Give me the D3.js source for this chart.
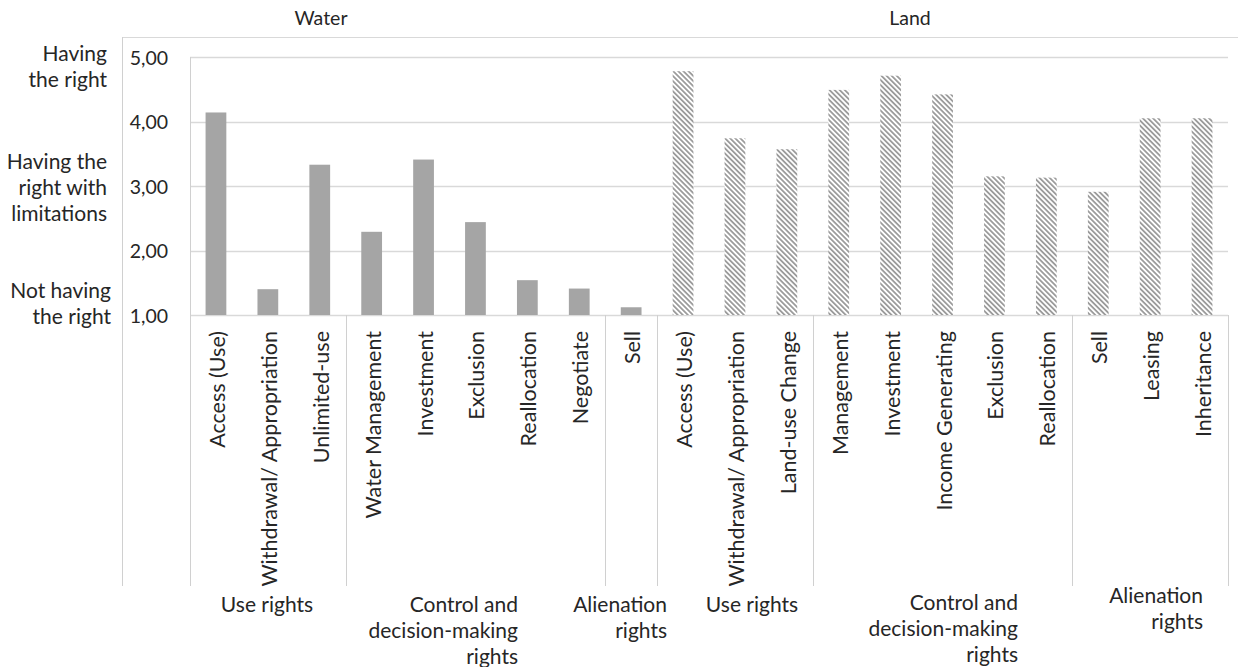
<!DOCTYPE html>
<html>
<head>
<meta charset="utf-8">
<script src="https://cdn.jsdelivr.net/npm/d3@7"></script>
<style>
  html, body { margin: 0; padding: 0; background: #fff; }
  svg text { font-family: Lato, "Noto Sans", sans-serif; fill: #262626; }
</style>
</head>
<body>
<svg id="chart" width="1239" height="667"></svg>
<script>
// ---------- data ----------
const waterCategories = ["Access (Use)", "Withdrawal/ Appropriation", "Unlimited-use", "Water Management", "Investment", "Exclusion", "Reallocation", "Negotiate", "Sell"];
const waterValues = [4.14, 1.40, 3.33, 2.29, 3.41, 2.44, 1.54, 1.41, 1.12];
const landCategories = ["Access (Use)", "Withdrawal/ Appropriation", "Land-use Change", "Management", "Investment", "Income Generating", "Exclusion", "Reallocation", "Sell", "Leasing", "Inheritance"];
const landValues = [4.78, 3.74, 3.57, 4.49, 4.71, 4.42, 3.15, 3.13, 2.91, 4.05, 4.05];
const waterGroupNames = [["Use rights"], ["Control and", "decision-making", "rights"], ["Alienation", "rights"]];
const waterGroupSizes = [3, 5, 1];
const landGroupNames = [["Use rights"], ["Control and", "decision-making", "rights"], ["Alienation", "rights"]];
const landGroupSizes = [3, 5, 3];
const yTicks = [1, 2, 3, 4, 5];
const levelLabels = [["Having", "the right"], ["Having the", "right with", "limitations"], ["Not having", "the right"]];
const levelValues = [5, 3, 1];
const mediumTitles = ["Water", "Land"];

(function () {
// ---------- build rows ----------
const rows = [
  ...waterCategories.map((c, i) => ({ id: "w" + i, label: c, value: waterValues[i], medium: "water" })),
  ...landCategories.map((c, i) => ({ id: "l" + i, label: c, value: landValues[i], medium: "land" }))
];

const svg = d3.select("#chart");
const pLeft = 190, pRight = 1228, pTop = 57, pBottom = 315, axisBottom = 586;

const x = d3.scaleBand().domain(rows.map(d => d.id)).range([pLeft, pRight]).paddingInner(0.6).paddingOuter(0.3);
const y = d3.scaleLinear().domain([1, 5]).range([pBottom, pTop]);

// pattern
const defs = svg.append("defs");
const pat = defs.append("pattern").attr("id", "hatch").attr("patternUnits", "userSpaceOnUse")
  .attr("width", 3.6).attr("height", 3.6).attr("patternTransform", "rotate(-45)");
pat.append("rect").attr("width", 3.6).attr("height", 3.6).attr("fill", "#fff");
pat.append("line").attr("x1", 0.9).attr("y1", 0).attr("x2", 0.9).attr("y2", 3.6)
  .attr("stroke", "#9c9c9c").attr("stroke-width", 1.8);

// outer frame lines
const lineColor = "#d0d0d0";
svg.append("line").attr("x1", 122).attr("x2", 1238).attr("y1", 37.5).attr("y2", 37.5).attr("stroke", "#d9d9d9");
svg.append("line").attr("x1", 122.5).attr("x2", 122.5).attr("y1", 37).attr("y2", axisBottom).attr("stroke", lineColor);

// gridlines
svg.append("g").selectAll("line").data(yTicks).join("line")
  .attr("x1", pLeft).attr("x2", pRight)
  .attr("y1", d => Math.round(y(d)) + 0.5).attr("y2", d => Math.round(y(d)) + 0.5)
  .attr("stroke", "#d9d9d9").attr("stroke-width", 1.3);

// y tick labels
svg.append("g").selectAll("text").data(yTicks).join("text")
  .attr("x", 168).attr("y", d => y(d)).attr("text-anchor", "end").attr("dominant-baseline", "central")
  .style("font-size", "19.5px")
  .text(d => d3.format(".2f")(d).replace(".", ","));

// level annotations
const lineH = 26;
levelLabels.forEach((lines, i) => {
  const cy = y(levelValues[i]);
  const rx = i === 2 ? 111 : 107;
  const yStart = i === 0 ? cy - 5 : cy - lineH;
  lines.forEach((t, j) => {
    svg.append("text").attr("x", rx).attr("y", yStart + j * lineH)
      .attr("text-anchor", "end").attr("dominant-baseline", "central")
      .style("font-size", "21px").text(t);
  });
});

// bars
svg.append("g").selectAll("rect").data(rows).join("rect")
  .attr("x", d => x(d.id)).attr("width", x.bandwidth())
  .attr("y", d => y(d.value)).attr("height", d => y(1) - y(d.value))
  .attr("fill", d => d.medium === "water" ? "#a5a5a5" : "url(#hatch)");

// vertical axis line
svg.append("line").attr("x1", pLeft + 0.5).attr("x2", pLeft + 0.5).attr("y1", pTop).attr("y2", axisBottom).attr("stroke", lineColor);

// category labels (rotated)
svg.append("g").selectAll("text").data(rows).join("text")
  .attr("transform", d => `translate(${x(d.id) + x.bandwidth() / 2 + 1},331) rotate(-90)`)
  .attr("text-anchor", "end").attr("dominant-baseline", "central")
  .style("font-size", "21.5px")
  .text(d => d.label);

// group dividers
const step = x.step();
const x0 = x.range()[0];
const allSizes = [...waterGroupSizes, ...landGroupSizes];
let acc = 0;
const boundaries = [];
allSizes.forEach(s => { acc += s; boundaries.push(acc); });
svg.append("g").selectAll("line").data(boundaries).join("line")
  .attr("x1", d => Math.round(x0 + d * step) + 0.5).attr("x2", d => Math.round(x0 + d * step) + 0.5)
  .attr("y1", pBottom).attr("y2", axisBottom).attr("stroke", lineColor);

// group labels
const groupLabelLayout = [
  { anchor: "middle", x: 267, y: 603 },
  { anchor: "end", x: 518, y: 603 },
  { anchor: "end", x: 667, y: 603 },
  { anchor: "middle", x: 752, y: 603 },
  { anchor: "end", x: 1018, y: 601 },
  { anchor: "end", x: 1203, y: 594 }
];
const allGroupNames = [...waterGroupNames, ...landGroupNames];
allGroupNames.forEach((lines, i) => {
  const L = groupLabelLayout[i];
  lines.forEach((t, j) => {
    svg.append("text").attr("x", L.x).attr("y", L.y + j * lineH)
      .attr("text-anchor", L.anchor).attr("dominant-baseline", "central")
      .style("font-size", "21px").text(t);
  });
});

// medium titles
svg.append("text").attr("x", 321).attr("y", 17).attr("text-anchor", "middle").attr("dominant-baseline", "central")
  .style("font-size", "19.5px").text(mediumTitles[0]);
svg.append("text").attr("x", 910).attr("y", 17).attr("text-anchor", "middle").attr("dominant-baseline", "central")
  .style("font-size", "19.5px").text(mediumTitles[1]);
})();
</script>
</body>
</html>
